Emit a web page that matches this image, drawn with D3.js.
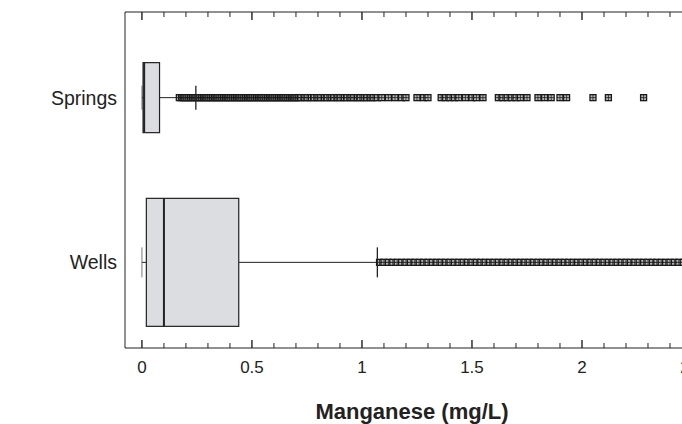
<!DOCTYPE html>
<html lang='en'>
<head>
<meta charset='UTF-8'>
<style>
  body { margin: 0; background: #fff; }
  svg { font-family: 'Liberation Sans', Arial, sans-serif; display: block; }
  .outlier { fill: #bbb; stroke: #1a1a1a; stroke-width: 1.3px; }
</style>
</head>
<body>
<div id="chart"></div>
<script src="https://d3js.org/d3.v7.min.js"></script>
<script>
// data
const groups = ['Springs', 'Wells']
const q1 = [0.005, 0.02]
const median = [0.01, 0.10]
const q3 = [0.08, 0.44]
const whiskLow = [0, 0]
const whiskHigh = [0.245, 1.07]
const springsOutliers = [
  0.17, 0.18, 0.19, 0.20, 0.21, 0.22, 0.23, 0.24, 0.25, 0.26, 0.27, 0.28, 0.29, 0.30,
  0.31, 0.32, 0.33, 0.34, 0.35, 0.36, 0.37, 0.38, 0.39, 0.40, 0.41, 0.42, 0.43, 0.44,
  0.45, 0.46, 0.47, 0.48, 0.49, 0.50, 0.51, 0.52, 0.53, 0.54, 0.55, 0.56, 0.57, 0.58,
  0.59, 0.60, 0.61, 0.62, 0.63, 0.64, 0.65, 0.66, 0.67, 0.68, 0.69, 0.70, 0.71, 0.72,
  0.74, 0.75, 0.77, 0.78, 0.80, 0.81, 0.83, 0.84, 0.86, 0.87, 0.89, 0.90, 0.92, 0.93,
  0.95, 0.96, 0.98, 0.99, 1.01, 1.02, 1.04, 1.05, 1.07, 1.09, 1.12, 1.15, 1.18, 1.20,
  1.25, 1.28, 1.30, 1.36, 1.38, 1.40, 1.42, 1.44, 1.47, 1.50, 1.52, 1.55, 1.62, 1.64,
  1.66, 1.68, 1.70, 1.72, 1.75, 1.80, 1.83, 1.86, 1.90, 1.93, 2.05, 2.12, 2.28
]
const wellsOutliers = [
  1.08, 1.10, 1.12, 1.14, 1.16, 1.18, 1.20, 1.22, 1.24, 1.26, 1.28, 1.30, 1.32, 1.34,
  1.36, 1.38, 1.40, 1.42, 1.44, 1.46, 1.48, 1.50, 1.52, 1.54, 1.56, 1.58, 1.60, 1.62,
  1.64, 1.66, 1.68, 1.70, 1.72, 1.74, 1.76, 1.78, 1.80, 1.82, 1.84, 1.86, 1.88, 1.90,
  1.92, 1.94, 1.96, 1.98, 2.00, 2.02, 2.04, 2.06, 2.08, 2.10, 2.12, 2.14, 2.16, 2.18,
  2.20, 2.22, 2.24, 2.26, 2.28, 2.30, 2.32, 2.34, 2.36, 2.38, 2.40, 2.42, 2.44, 2.46
]
const outliers = [springsOutliers, wellsOutliers]
const xTicks = [0, 0.5, 1, 1.5, 2, 2.5]

const width = 682, height = 424
const mLeft = 125, mRight = 692, mTop = 12, mBottom = 348

const x = d3.scaleLinear().domain([-0.077, 2.5]).range([mLeft, mRight])
const y = d3.scaleBand().domain(groups).range([mTop, mBottom]).paddingInner(0.2).paddingOuter(0.12)
const boxH = [70, 128]

const svg = d3.select('#chart').append('svg')
  .attr('width', width).attr('height', height)

// frame lines
svg.append('line').attr('x1', mLeft).attr('x2', mRight).attr('y1', mTop).attr('y2', mTop).attr('stroke', '#222')
svg.append('line').attr('x1', mLeft).attr('x2', mRight).attr('y1', mBottom).attr('y2', mBottom).attr('stroke', '#222')
svg.append('line').attr('x1', mLeft).attr('x2', mLeft).attr('y1', mTop).attr('y2', mBottom).attr('stroke', '#222')

const minor = d3.range(0, 26).map(i => i / 10)
function ticks(yy, dir) {
  svg.append('g').selectAll('line').data(minor).join('line')
    .attr('x1', d => x(d)).attr('x2', d => x(d))
    .attr('y1', yy)
    .attr('y2', (d, i) => yy + dir * (i % 5 === 0 ? 8 : 5))
    .attr('stroke', '#222').attr('stroke-width', (d, i) => i % 5 === 0 ? 1.4 : 1)
}
ticks(mBottom, -1)
ticks(mTop, 1)

svg.append('g').selectAll('text').data(xTicks).join('text')
  .attr('x', d => x(d)).attr('y', mBottom + 25)
  .attr('text-anchor', 'middle').attr('font-size', 17).attr('fill', '#222')
  .text(d => d)

svg.append('text').attr('x', 412).attr('y', 419)
  .attr('text-anchor', 'middle').attr('font-size', 22).attr('font-weight', 'bold').attr('fill', '#222')
  .text('Manganese (mg/L)')

groups.forEach((g, i) => {
  const cy = y(g) + y.bandwidth() / 2
  const h = boxH[i]
  const capH = i === 0 ? 24 : 30
  const G = svg.append('g')

  G.append('text').attr('x', 117).attr('y', cy + 7)
    .attr('text-anchor', 'end').attr('font-size', 19.5).attr('fill', '#222').text(g)

  // whiskers
  G.append('line').attr('x1', x(whiskLow[i])).attr('x2', x(q1[i]))
    .attr('y1', cy).attr('y2', cy).attr('stroke', '#222')
  G.append('line').attr('x1', x(q3[i])).attr('x2', x(whiskHigh[i]))
    .attr('y1', cy).attr('y2', cy).attr('stroke', '#222')
  G.append('line').attr('x1', x(whiskLow[i])).attr('x2', x(whiskLow[i]))
    .attr('y1', cy - capH / 2).attr('y2', cy + capH / 2).attr('stroke', '#555').attr('stroke-width', 0.8)

  // outliers
  G.append('g').selectAll('rect').data(outliers[i]).join('rect')
    .attr('class', 'outlier')
    .attr('x', d => x(d) - 3).attr('y', cy - 3)
    .attr('width', 6).attr('height', 6)
  G.append('g').selectAll('path').data(outliers[i]).join('path')
    .attr('d', d => `M${x(d) - 3},${cy}H${x(d) + 3}M${x(d)},${cy - 3}V${cy + 3}`)
    .attr('stroke', '#1a1a1a').attr('stroke-width', 0.8)

  G.append('line').attr('x1', x(whiskHigh[i])).attr('x2', x(whiskHigh[i]))
    .attr('y1', cy - capH / 2).attr('y2', cy + capH / 2).attr('stroke', '#222').attr('stroke-width', 1.3)

  // box
  G.append('rect').attr('x', x(q1[i])).attr('y', cy - h / 2)
    .attr('width', x(q3[i]) - x(q1[i])).attr('height', h)
    .attr('fill', '#dcdde0').attr('stroke', '#222').attr('stroke-width', 1.2)
  G.append('line').attr('x1', x(median[i])).attr('x2', x(median[i]))
    .attr('y1', cy - h / 2).attr('y2', cy + h / 2).attr('stroke', '#222').attr('stroke-width', 2)
})
</script>
</body>
</html>
